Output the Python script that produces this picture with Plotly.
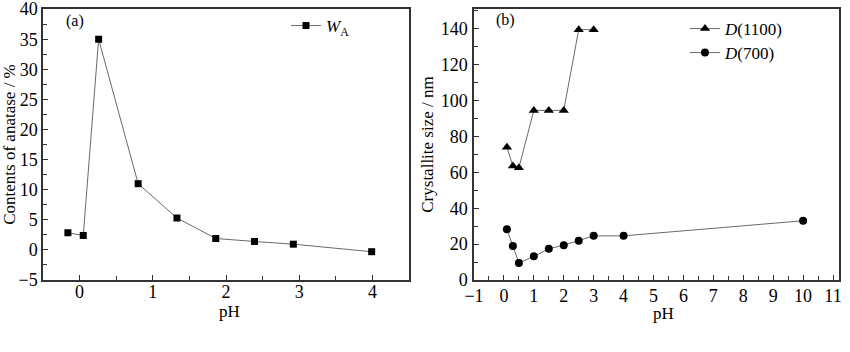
import plotly.graph_objects as go
from plotly.subplots import make_subplots

# Panel (a)
ph_a = [-0.16, 0.05, 0.26, 0.80, 1.33, 1.86, 2.39, 2.92, 3.99]
wa = [2.85, 2.4, 35.0, 11.0, 5.3, 1.9, 1.4, 0.95, -0.3]

# Panel (b)
ph_1100 = [0.1, 0.3, 0.5, 1.0, 1.5, 2.0, 2.5, 3.0]
d_1100 = [74.0, 63.5, 62.5, 94.5, 94.5, 94.5, 139.5, 139.5]
ph_700 = [0.1, 0.3, 0.5, 1.0, 1.5, 2.0, 2.5, 3.0, 4.0, 10.0]
d_700 = [28.3, 18.9, 9.5, 13.2, 17.4, 19.4, 21.9, 24.6, 24.6, 33.0]

FONT = "Liberation Serif, Times New Roman, Times, serif"
LINE = "#6a6a6a"
FRAME = "#333333"

fig = make_subplots(rows=1, cols=2)

fig.add_trace(go.Scatter(x=ph_a, y=wa, mode="lines+markers", name="<i>W</i><sub>A</sub>",
                         line=dict(color=LINE, width=1),
                         marker=dict(symbol="square", size=7, color="black"),
                         legend="legend"), row=1, col=1)
fig.add_trace(go.Scatter(x=ph_1100, y=d_1100, mode="lines+markers", name="<i>D</i>(1100)",
                         line=dict(color=LINE, width=1),
                         marker=dict(symbol="triangle-up", size=9, color="black"),
                         legend="legend2"), row=1, col=2)
fig.add_trace(go.Scatter(x=ph_700, y=d_700, mode="lines+markers", name="<i>D</i>(700)",
                         line=dict(color=LINE, width=1),
                         marker=dict(symbol="circle", size=8, color="black"),
                         legend="legend3"), row=1, col=2)

W, H = 850, 352
TOP, BOT = 9, 280
axis_common = dict(showline=True, linecolor=FRAME, linewidth=1.5, mirror=True,
                   ticks="inside", ticklen=5, tickcolor=FRAME, tickwidth=1,
                   showgrid=False, zeroline=False, ticklabeloverflow="allow",
                   tickfont=dict(family=FONT, size=18, color="black"))

fig.update_xaxes(**axis_common)
fig.update_yaxes(**axis_common)

fig.update_layout(
    xaxis=dict(domain=[43 / W, 409 / W], range=[-0.5, 4.5], dtick=1, tick0=0,
               ticklabelstandoff=-5,
               minor=dict(dtick=0.5, ticks="inside", ticklen=4, tickcolor=FRAME)),
    yaxis=dict(domain=[1 - BOT / H, 1 - TOP / H], range=[-5, 40.02], dtick=5, tick0=0,
               minor=dict(dtick=2.5, ticks="inside", ticklen=4, tickcolor=FRAME),
               title=dict(text="Contents of anatase / %", font=dict(family=FONT, size=17, color="black"), standoff=4)),
    xaxis2=dict(domain=[474 / W, 839 / W], range=[-1, 11.2], dtick=1, tick0=0,
                ticklabelstandoff=-1,
                minor=dict(dtick=0.5, ticks="inside", ticklen=4, tickcolor=FRAME)),
    yaxis2=dict(domain=[1 - BOT / H, 1 - TOP / H], range=[0, 151], dtick=20, tick0=0,
                ticklabelstandoff=1,
                minor=dict(dtick=10, ticks="inside", ticklen=4, tickcolor=FRAME),
                title=dict(text="Crystallite size / nm", font=dict(family=FONT, size=17, color="black"), standoff=3)),
    width=W, height=H,
    margin=dict(l=0, r=0, t=0, b=0, autoexpand=False),
    paper_bgcolor="white", plot_bgcolor="white",
    font=dict(family=FONT, size=17, color="black"),
    showlegend=True,
    legend=dict(x=286 / W, y=1 - 8 / H, xanchor="left", yanchor="top",
                bgcolor="rgba(0,0,0,0)", font=dict(family=FONT, size=17, color="black")),
    legend2=dict(x=685 / W, y=1 - 11 / H, xanchor="left", yanchor="top",
                 bgcolor="rgba(0,0,0,0)", font=dict(family=FONT, size=17, color="black")),
    legend3=dict(x=685 / W, y=1 - 35 / H, xanchor="left", yanchor="top",
                 bgcolor="rgba(0,0,0,0)", font=dict(family=FONT, size=17, color="black")),
    annotations=[
        dict(text="(a)", x=75 / W, y=1 - 21 / H, xref="paper", yref="paper",
             xanchor="center", yanchor="middle",
             showarrow=False, font=dict(family=FONT, size=16, color="black")),
        dict(text="(b)", x=505 / W, y=1 - 20 / H, xref="paper", yref="paper",
             xanchor="center", yanchor="middle",
             showarrow=False, font=dict(family=FONT, size=16, color="black")),
        dict(text="pH", x=229 / W, y=1 - 311 / H, xref="paper", yref="paper",
             xanchor="center", yanchor="middle",
             showarrow=False, font=dict(family=FONT, size=17, color="black")),
        dict(text="pH", x=663 / W, y=1 - 313 / H, xref="paper", yref="paper",
             xanchor="center", yanchor="middle",
             showarrow=False, font=dict(family=FONT, size=17, color="black")),
    ],
)

fig.write_html("out.html")
